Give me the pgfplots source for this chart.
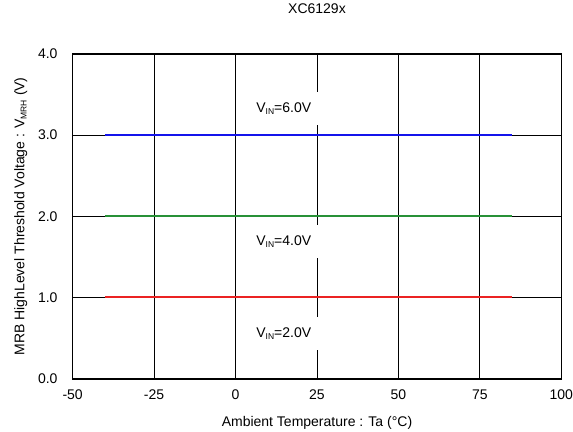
\documentclass[border=0pt]{standalone}
\usepackage{fontspec}
\setmainfont{Liberation Sans}
\usepackage{pgfplots}
\pgfplotsset{compat=1.18}
\definecolor{lblue}{RGB}{20,20,235}
\definecolor{lgreen}{RGB}{40,145,55}
\definecolor{lred}{RGB}{235,35,35}
\newcommand\sub[1]{\raisebox{-0.3ex}{\fontsize{8.5bp}{9bp}\selectfont #1}}
\begin{document}
\fontsize{14bp}{16bp}\selectfont
\begin{tikzpicture}
\begin{axis}[
  scale only axis, width=489bp, height=325bp,
  xmin=-50, xmax=100, ymin=0, ymax=4,
  xtick={-50,-25,0,25,50,75,100}, ytick={0,1,2,3,4},
  /pgf/number format/assume math mode=true,
  yticklabel={\pgfmathprintnumber[fixed,fixed zerofill,precision=1]{\tick}},
  grid=major, major grid style={black, line width=0.9bp},
  axis line style={black, line width=1.6bp},
  major tick length=0,
  tick label style={font=\fontsize{14bp}{16bp}\selectfont, inner sep=0pt},
  xticklabel style={yshift=-11bp},
  yticklabel style={xshift=-15bp},
  title={XC6129x},
  title style={at={(rel axis cs:0.5,1)}, anchor=center, yshift=39bp, inner sep=0pt, font=\fontsize{14bp}{16bp}\selectfont},
  xlabel={Ambient Temperature : Ta (°C)},
  ylabel={MRB HighLevel Threshold Voltage : V\sub{MRH} (V)},
  every axis x label/.style={at={(rel axis cs:0.5,0)}, anchor=center, yshift=-44bp, inner sep=0pt, font=\fontsize{14bp}{16bp}\selectfont},
  every axis y label/.style={at={(rel axis cs:0,0.5)}, anchor=center, rotate=90, yshift=52bp, inner sep=0pt, font=\fontsize{14bp}{16bp}\selectfont},
  clip=false,
]
\addplot[lblue, line width=2bp] coordinates {(-40,3.0) (-25,3.0) (0,3.0) (25,3.0) (50,3.0) (85,3.0)};
\addplot[lgreen, line width=2bp] coordinates {(-40,2.01) (-25,2.01) (0,2.01) (25,2.01) (50,2.01) (85,2.01)};
\addplot[lred, line width=2bp] coordinates {(-40,1.005) (-25,1.005) (0,1.005) (25,1.005) (50,1.005) (85,1.005)};
\node[fill=white, inner xsep=9bp, minimum height=33bp] at (axis cs:14.8,3.33) {V\sub{IN}=6.0V};
\node[fill=white, inner xsep=9bp, minimum height=33bp] at (axis cs:14.8,1.69) {V\sub{IN}=4.0V};
\node[fill=white, inner xsep=9bp, minimum height=33bp] at (axis cs:14.8,0.56) {V\sub{IN}=2.0V};
\path (rel axis cs:0,0) ++(-72.7bp,-53bp);
\path (rel axis cs:1,1) ++(11.3bp,54bp);
\end{axis}
\end{tikzpicture}
\end{document}
